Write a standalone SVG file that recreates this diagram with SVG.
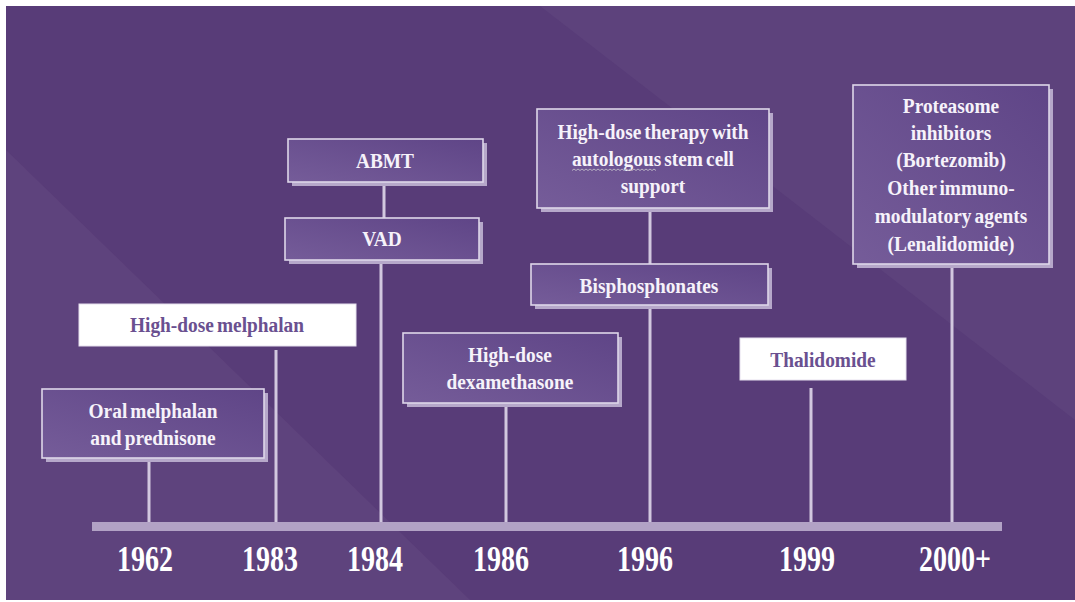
<svg xmlns="http://www.w3.org/2000/svg" width="1075" height="602" viewBox="0 0 1075 602">
  <defs>
    <linearGradient id="boxg" x1="0" y1="1" x2="1" y2="0">
      <stop offset="0" stop-color="#755c99"/>
      <stop offset="1" stop-color="#5f4587"/>
    </linearGradient>
    <style>
      .bx { fill: url(#boxg); stroke: #ded6e9; stroke-width: 1.6; }
      .sh { fill: #b6a8ca; }
      .wb { fill: #ffffff; stroke: #e6e0ee; stroke-width: 1; }
      .t { font-family: "Liberation Serif", "Times New Roman", serif; font-weight: bold; font-size: 22px; fill: #f6f2fa; text-anchor: middle; word-spacing: -2px; }
      .tp { fill: #6a5090; }
      .yr { font-family: "Liberation Serif", "Times New Roman", serif; font-weight: bold; font-size: 35px; fill: #ffffff; text-anchor: middle; }
      .ln { stroke: #d2c8df; stroke-width: 3; fill: none; }
    </style>
  </defs>

  <rect x="0" y="0" width="1075" height="602" fill="#ffffff"/>
  <rect x="6" y="6" width="1069" height="594" fill="#583c78"/>
  <polygon points="6,150 470,600 6,600" fill="#62477f" opacity="0.65"/>
  <polygon points="540,6 1075,6 1075,420" fill="#60467f" opacity="0.6"/>

  <g id="connectors">
    <rect x="92" y="522" width="910" height="9" fill="#b2a2c5"/>
    <line class="ln" x1="149" y1="462" x2="149" y2="522"/>
    <line class="ln" x1="276" y1="350" x2="276" y2="522"/>
    <line class="ln" x1="384" y1="184" x2="384" y2="218"/>
    <line class="ln" x1="381" y1="264" x2="381" y2="522"/>
    <line class="ln" x1="506" y1="407" x2="506" y2="522"/>
    <line class="ln" x1="650" y1="212" x2="650" y2="264"/>
    <line class="ln" x1="650" y1="309" x2="650" y2="522"/>
    <line class="ln" x1="811" y1="388" x2="811" y2="522"/>
    <line class="ln" x1="952" y1="268" x2="952" y2="522"/>
  </g>

  <g id="n-oral">
    <rect class="sh" x="46" y="393" width="222" height="69"/>
    <rect class="bx" x="42" y="389" width="222" height="69"/>
    <text class="t" transform="scale(0.88,1)" x="173.9" y="418">Oral melphalan</text>
    <text class="t" transform="scale(0.88,1)" x="173.9" y="445">and prednisone</text>
  </g>

  <g id="n-hdmel">
    <rect class="wb" x="79" y="304" width="277" height="42"/>
    <text class="t tp" transform="scale(0.88,1)" x="246.6" y="332">High-dose melphalan</text>
  </g>

  <g id="n-abmt">
    <rect class="sh" x="292" y="143" width="195" height="43"/>
    <rect class="bx" x="288" y="139" width="195" height="43"/>
    <text class="t" transform="scale(0.88,1)" x="437.5" y="168">ABMT</text>
  </g>

  <g id="n-vad">
    <rect class="sh" x="289" y="222" width="194" height="42"/>
    <rect class="bx" x="285" y="218" width="194" height="42"/>
    <text class="t" transform="scale(0.88,1)" x="434.1" y="246">VAD</text>
  </g>

  <g id="n-dexa">
    <rect class="sh" x="407" y="337" width="215" height="70"/>
    <rect class="bx" x="403" y="333" width="215" height="70"/>
    <text class="t" transform="scale(0.88,1)" x="579.5" y="362">High-dose</text>
    <text class="t" transform="scale(0.88,1)" x="579.5" y="389">dexamethasone</text>
  </g>

  <g id="n-hdt">
    <rect class="sh" x="541" y="113" width="232" height="99"/>
    <rect class="bx" x="537" y="109" width="232" height="99"/>
    <text class="t" transform="scale(0.88,1)" x="742" y="139">High-dose therapy with</text>
    <text class="t" transform="scale(0.88,1)" x="742" y="166">autologous stem cell</text>
    <text class="t" transform="scale(0.88,1)" x="742" y="193">support</text>
    <path d="M572,170.5 l2,-1.5 l2,1.5 l2,-1.5 l2,1.5 l2,-1.5 l2,1.5 l2,-1.5 l2,1.5 l2,-1.5 l2,1.5 l2,-1.5 l2,1.5 l2,-1.5 l2,1.5 l2,-1.5 l2,1.5 l2,-1.5 l2,1.5 l2,-1.5 l2,1.5 l2,-1.5 l2,1.5 l2,-1.5 l2,1.5 l2,-1.5 l2,1.5 l2,-1.5 l2,1.5 l2,-1.5 l2,1.5 l2,-1.5 l2,1.5 l2,-1.5 l2,1.5 l2,-1.5 l2,1.5 l2,-1.5 l2,1.5 l2,-1.5 l2,1.5 l2,-1.5 l2,1.5" fill="none" stroke="#b9b1c4" stroke-width="1"/>
  </g>

  <g id="n-bisph">
    <rect class="sh" x="535" y="268" width="237" height="41"/>
    <rect class="bx" x="531" y="264" width="237" height="41"/>
    <text class="t" transform="scale(0.88,1)" x="737.5" y="293">Bisphosphonates</text>
  </g>

  <g id="n-thal">
    <rect class="wb" x="740" y="338" width="166" height="42"/>
    <text class="t tp" transform="scale(0.88,1)" x="935.2" y="367">Thalidomide</text>
  </g>

  <g id="n-prot">
    <rect class="sh" x="857" y="89" width="196" height="179"/>
    <rect class="bx" x="853" y="85" width="196" height="179"/>
    <text class="t" transform="scale(0.88,1)" x="1080.7" y="113">Proteasome</text>
    <text class="t" transform="scale(0.88,1)" x="1080.7" y="140">inhibitors</text>
    <text class="t" transform="scale(0.88,1)" x="1080.7" y="167">(Bortezomib)</text>
    <text class="t" transform="scale(0.88,1)" x="1080.7" y="195">Other immuno-</text>
    <text class="t" transform="scale(0.88,1)" x="1080.7" y="223">modulatory agents</text>
    <text class="t" transform="scale(0.88,1)" x="1080.7" y="251">(Lenalidomide)</text>
  </g>

  <g id="years">
    <text class="yr" transform="scale(0.8,1)" x="181.3" y="571">1962</text>
    <text class="yr" transform="scale(0.8,1)" x="337.5" y="571">1983</text>
    <text class="yr" transform="scale(0.8,1)" x="468.8" y="571">1984</text>
    <text class="yr" transform="scale(0.8,1)" x="626.3" y="571">1986</text>
    <text class="yr" transform="scale(0.8,1)" x="806.3" y="571">1996</text>
    <text class="yr" transform="scale(0.8,1)" x="1008.8" y="571">1999</text>
    <text class="yr" transform="scale(0.8,1)" x="1193.8" y="571">2000+</text>
  </g>
</svg>
